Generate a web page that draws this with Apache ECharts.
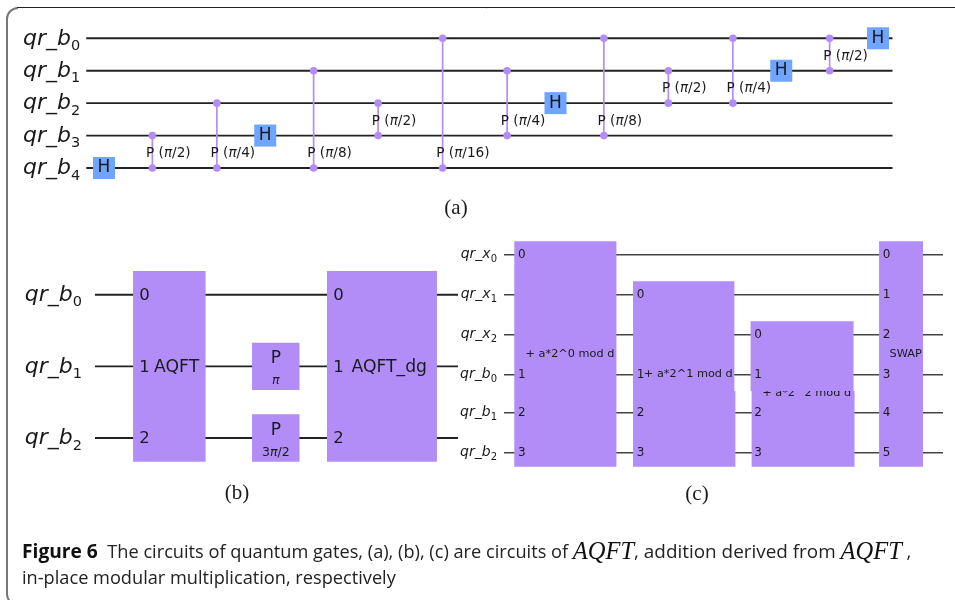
<!DOCTYPE html>
<html><head><meta charset="utf-8">
<style>html,body{margin:0;padding:0;background:#fff}#c{width:955px;height:600px}</style>
<script src="https://cdn.jsdelivr.net/npm/echarts@6/dist/echarts.min.js"></script>
</head><body><div id="c"></div>
<script>
// ---- data ----
const wiresA = ['qr_b0','qr_b1','qr_b2','qr_b3','qr_b4'];
const rowsA = [0,1,2,3,4];
const hColsA = [0,10,28,42,48];
const hRowsA = [4,3,2,1,0];
const cpColsA = [3,7,13,17,21,25,31,35,39,45];
const cpTopA = [3,2,1,2,0,1,0,1,0,0];
const cpBottomA = [4,4,4,3,4,3,3,2,2,1];
const cpLabelsA = ['P (π/2)','P (π/4)','P (π/8)','P (π/2)','P (π/16)','P (π/4)','P (π/8)','P (π/2)','P (π/4)','P (π/2)'];

const wiresB = ['qr_b0','qr_b1','qr_b2'];
const rowsB = [0,1,2];
const colsB = [1.038,4.008];
const widthsB = [1.013,1.536];
const namesB = ['AQFT','AQFT_dg'];
const phaseColsB = [2.525,2.525];
const phaseRowsB = [1,2];
const phaseParamsB = ['π','3π/2'];
const phaseWidthB = 0.663;

const wiresC = ['qr_x0','qr_x1','qr_x2','qr_b0','qr_b1','qr_b2'];
const rowsC = [0,1.01,2.02,3.03,3.99,5];
const colsC = [1.55,4.54,7.53,10.03];
const widthsC = [2.58,2.56,2.6,1.11];
const topWireC = [0,1,2,0];
const namesC = ['+ a*2^0 mod d','+ a*2^1 mod d','+ a*2^2 mod d','SWAP'];
const portsC = [[0,3,4,5],[1,3,4,5],[2,3,4,5],[0,1,2,3,4,5]];
const seamRowC = 3.44;

const captionBold = 'Figure 6';
const captionLine1 = 'The circuits of quantum gates, (a), (b), (c) are circuits of ';
const captionMath = 'AQFT';
const captionLine1b = ', addition derived from ';
const captionLine2 = 'in-place modular multiplication, respectively';

// ---- styles ----
const PURPLE = '#b28df8', BLUE = '#6fa4ff', INK = '#1a1a1a', FONT = '"DejaVu Sans"';
const txt = (text,x,y,size,align,extra) => ({type:'text',style:Object.assign({text,x,y,fill:INK,fontFamily:FONT,fontSize:size,align:align||'left',verticalAlign:'middle'},extra||{})});
const rect = (x0,y0,x1,y1,fill) => ({type:'rect',shape:{x:x0,y:y0,width:x1-x0,height:y1-y0},style:{fill}});

function wireSeries(i,x0,x1,rows,width,color){
  return {type:'custom',xAxisIndex:i,yAxisIndex:i,z:1,silent:true,
    data:rows.map(r=>[x0,r]),
    renderItem(p,api){
      const a=api.coord([x0,api.value(1)]),b=api.coord([x1,api.value(1)]);
      return {type:'line',shape:{x1:a[0],y1:a[1],x2:b[0],y2:b[1]},style:{stroke:color,lineWidth:width}};
    }};
}
function richLabel(s,size){
  return {text:s.replace('π','{i|π}'),
    rich:{i:{fontStyle:'italic',fontFamily:FONT,fontSize:size,fill:INK}}};
}

const ySide = (i,grid,rows,names,min,max,margin,main,sub,raise,drop) => ({
  gridIndex:i,type:'value',min,max,inverse:true,
  axisLine:{show:false},axisTick:{show:false},splitLine:{show:false},
  axisLabel:{customValues:rows,margin,padding:[drop,0,0,0],
    formatter:v=>{const n=names[rows.indexOf(v)];return '{n|'+n.slice(0,-1)+'}{s|'+n.slice(-1)+'}';},
    rich:{n:{fontFamily:FONT,fontStyle:'italic',fontSize:main,color:INK,verticalAlign:'bottom',padding:[0,0,raise,0]},
          s:{fontFamily:FONT,fontStyle:'normal',fontSize:sub,color:INK,verticalAlign:'bottom'}}}
});
const xSide = (i,min,max)=>({gridIndex:i,type:'value',min,max,show:false});

// ---- panel a gates ----
const hSeries = {type:'custom',xAxisIndex:0,yAxisIndex:0,z:3,silent:true,
  data:hColsA.map((c,i)=>[c,hRowsA[i]]),
  renderItem(p,api){
    const c=api.coord([api.value(0),api.value(1)]);
    return {type:'group',children:[rect(c[0]-11,c[1]-11,c[0]+11,c[1]+11,BLUE),txt('H',c[0],c[1],17,'center')]};
  }};
const cpSeries = {type:'custom',xAxisIndex:0,yAxisIndex:0,z:2,silent:true,
  data:cpColsA.map((c,i)=>[c,cpTopA[i],cpBottomA[i]]),
  renderItem(p,api){
    const t=api.coord([api.value(0),api.value(1)]),b=api.coord([api.value(0),api.value(2)]);
    const l=richLabel(cpLabelsA[p.dataIndex],13.6);
    return {type:'group',children:[
      {type:'line',shape:{x1:t[0],y1:t[1],x2:b[0],y2:b[1]},style:{stroke:PURPLE,lineWidth:1.7}},
      {type:'circle',shape:{cx:t[0],cy:t[1],r:3.8},style:{fill:PURPLE}},
      {type:'circle',shape:{cx:b[0],cy:b[1],r:3.8},style:{fill:PURPLE}},
      {type:'text',style:Object.assign({x:b[0]-6.3,y:b[1]-14.5,fill:INK,fontFamily:FONT,fontSize:13.6,align:'left',verticalAlign:'middle'},l)}
    ]};
  }};

// ---- panel b gates ----
const aqftSeries = {type:'custom',xAxisIndex:1,yAxisIndex:1,z:3,silent:true,
  data:colsB.map(c=>[c,0,2]),
  renderItem(p,api){
    const w=widthsB[p.dataIndex],cx=api.value(0);
    const t=api.coord([cx-w/2,-0.33]),b=api.coord([cx+w/2,2.33]);
    const mid=api.coord([cx,1]);
    const kids=[rect(t[0],t[1],b[0],b[1],PURPLE)];
    rowsB.forEach((r,i)=>{const q=api.coord([cx,r]);kids.push(txt(String(i),t[0]+6.3,q[1]+1,16.5,'left'));});
    kids.push(txt(namesB[p.dataIndex],mid[0]+7.3,mid[1]+1,17.2,'center'));
    return {type:'group',children:kids};
  }};
const phaseSeries = {type:'custom',xAxisIndex:1,yAxisIndex:1,z:3,silent:true,
  data:phaseColsB.map((c,i)=>[c,phaseRowsB[i]]),
  renderItem(p,api){
    const cx=api.value(0),r=api.value(1);
    const t=api.coord([cx-phaseWidthB/2,r-0.33]),b=api.coord([cx+phaseWidthB/2,r+0.33]),m=api.coord([cx,r]);
    const l=richLabel(phaseParamsB[p.dataIndex],12.5);
    return {type:'group',children:[rect(t[0],t[1],b[0],b[1],PURPLE),
      txt('P',m[0],m[1]-7.5,17,'center'),
      {type:'text',style:Object.assign({x:m[0],y:m[1]+14.5,fill:INK,fontFamily:FONT,fontSize:12.5,align:'center',verticalAlign:'middle'},l)}]};
  }};

// ---- panel c gates ----
const blockSeries = {type:'custom',xAxisIndex:2,yAxisIndex:2,z:3,silent:true,
  data:colsC.map((c,i)=>[c,rowsC[topWireC[i]],5]),
  renderItem(p,api){
    const i=p.dataIndex,cx=api.value(0),w=widthsC[i],top=api.value(1);
    const tl=api.coord([cx-w/2,top-0.34]),seam=api.coord([cx+w/2,seamRowC]),br=api.coord([cx+w/2,5.355]);
    const dxL=i===2?1:0,dxR=(i===1||i===2)?1:0;
    const midY=(api.coord([cx,top])[1]+api.coord([cx,5])[1])/2;
    const kids=[rect(tl[0]+dxL,seam[1],br[0]+dxR,br[1],PURPLE)];
    kids.push(txt(namesC[i],(tl[0]+br[0])/2+4.6,midY+0.5-(i===2?1.5:0),11.3,'center'));
    kids.push(rect(tl[0],tl[1],seam[0],seam[1],PURPLE));
    if(i!==2){kids.pop();kids.splice(1,0,rect(tl[0],tl[1],seam[0],seam[1],PURPLE));}
    portsC[i].forEach((w,j)=>{const q=api.coord([cx,rowsC[w]]);kids.push(txt(String(j),tl[0]+3.6,q[1]+0.2,12,'left'));});
    return {type:'group',children:kids};
  }};

const serif = {fontFamily:'"Liberation Serif"',fontWeight:'normal',fontSize:21,color:INK};
const option = {
  animation:false,backgroundColor:'#fff',
  title:[
    {text:'(a)',left:451,top:203,textAlign:'center',textVerticalAlign:'middle',textStyle:serif},
    {text:'(b)',left:232,top:488,textAlign:'center',textVerticalAlign:'middle',textStyle:serif},
    {text:'(c)',left:692,top:489,textAlign:'center',textVerticalAlign:'middle',textStyle:serif},
    {text:'{b|'+captionBold+'}{r|  '+captionLine1+'}{m|'+captionMath+'}{w|'+captionLine1b+'}{m|'+captionMath+'}{r| ,}\n{r|'+captionLine2+'}',
     left:22,top:540,padding:0,
     textStyle:{fontWeight:'normal',rich:{
       b:{fontFamily:'"Open Sans"',fontWeight:'bold',fontSize:19.2,color:'#111',lineHeight:26},
       r:{fontFamily:'"Open Sans"',fontWeight:'normal',fontSize:18.2,color:'#222',lineHeight:26},
       w:{fontFamily:'"Open Sans"',fontWeight:'normal',fontSize:18.9,color:'#222',lineHeight:26},
       m:{fontFamily:'"Liberation Serif"',fontStyle:'italic',fontWeight:'normal',fontSize:24.5,color:'#111',lineHeight:26}}}}
  ],
  graphic:[
    {type:'rect',silent:true,shape:{x:7,y:8,width:1100,height:597,r:11},style:{fill:'none',stroke:'#777',lineWidth:2}},
    {type:'line',silent:true,shape:{x1:18,y1:8.5,x2:955,y2:8.5},style:{stroke:'#fff',lineWidth:1}},
    {type:'line',silent:true,shape:{x1:17,y1:7.5,x2:955,y2:7.5},style:{stroke:'#222',lineWidth:1}}
  ],
  grid:[
    {left:86.26,width:806.25,top:38.3,height:129.7},
    {left:95,width:363,top:294.7,height:143.3},
    {left:504,width:439,top:254.7,height:198}
  ],
  xAxis:[xSide(0,-1.1,48.9),xSide(1,0,5.07),xSide(2,0,11.09)],
  yAxis:[
    ySide(0,0,rowsA,wiresA,0,4,6,22,14.5,4,5),
    ySide(1,1,rowsB,wiresB,0,2,13,22,14.5,4,5),
    ySide(2,2,rowsC,wiresC,0,5,7,14,10,3,3)
  ],
  series:[
    wireSeries(0,-1.1,48.9,rowsA,1.9,'#222'),
    cpSeries,hSeries,
    wireSeries(1,0,5.07,rowsB,1.9,'#222'),
    aqftSeries,phaseSeries,
    wireSeries(2,0,11.09,rowsC,1.5,'#444'),
    blockSeries
  ]
};
echarts.init(document.getElementById('c'),null,{renderer:'canvas'}).setOption(option);
</script></body></html>
